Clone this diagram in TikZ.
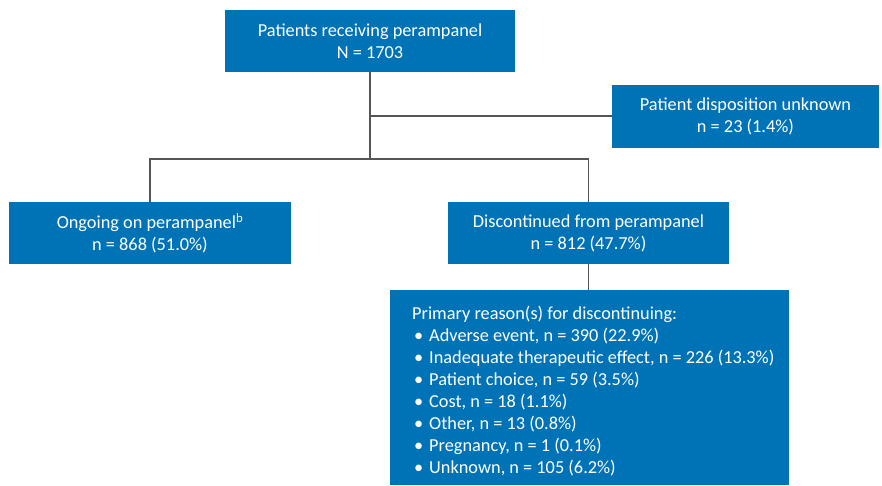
\documentclass[tikz,border=0pt]{standalone}
\usepackage{fontspec}
\setmainfont{Carlito}
\definecolor{boxblue}{RGB}{0,114,182}
\definecolor{linegray}{RGB}{85,85,85}
\newcommand{\bul}{\makebox[17pt][l]{\hspace*{2pt}\textbullet}}
\begin{document}
\begin{tikzpicture}[x=1pt,y=-1pt,
  bluebox/.style={draw=none,fill=boxblue,text=white,align=center,inner sep=0pt,
     font=\fontsize{18.3}{22}\selectfont},
  conn/.style={draw=linegray,line width=1.3pt}]
\useasboundingbox (0,0) rectangle (882,486);
\node[bluebox,minimum width=290pt,minimum height=62pt] (top) at (370,41) {Patients receiving perampanel\\N = 1703};
\node[bluebox,minimum width=267pt,minimum height=63pt] (unk) at (745.5,116.5) {Patient disposition unknown\\n = 23 (1.4\%)};
\node[bluebox,minimum width=282pt,minimum height=62pt] (ong) at (150,233) {Ongoing on perampanel\textsuperscript{b}\\n = 868 (51.0\%)};
\node[bluebox,minimum width=281pt,minimum height=62pt] (dis) at (588.5,233) {Discontinued from perampanel\\n = 812 (47.7\%)};
\node[bluebox,minimum width=399pt,minimum height=195pt] (pri) at (589.5,387.5) {};
\node[anchor=north west,text=white,align=left,inner sep=0pt,font=\fontsize{18.3}{22}\selectfont] (list) at (412,306)
{Primary reason(s) for discontinuing:\\
\bul Adverse event, n = 390 (22.9\%)\\
\bul Inadequate therapeutic effect, n = 226 (13.3\%)\\
\bul Patient choice, n = 59 (3.5\%)\\
\bul Cost, n = 18 (1.1\%)\\
\bul Other, n = 13 (0.8\%)\\
\bul Pregnancy, n = 1 (0.1\%)\\
\bul Unknown, n = 105 (6.2\%)};
\coordinate (split) at (370,159);
\coordinate (branch) at (370,116);
\draw[conn] (top.south) -- (split);
\draw[conn] (branch) -- (unk.west |- branch);
\draw[conn] (ong.north) |- (split) -| (dis.north);
\draw[conn] (dis.south) -- (pri.north -| dis.south);
\end{tikzpicture}
\end{document}
